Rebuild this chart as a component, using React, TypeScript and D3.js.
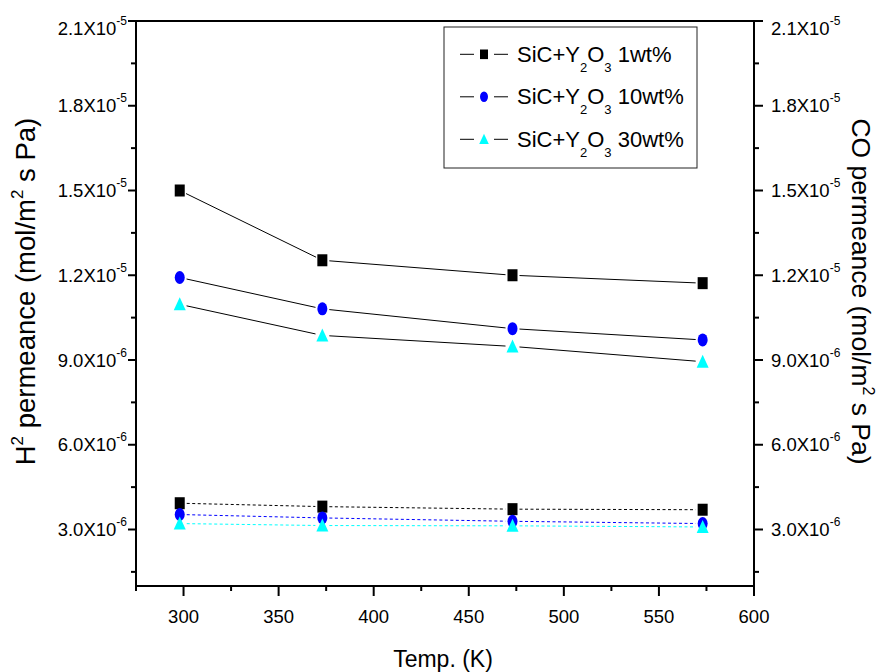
import React from "react";
import * as d3 from "d3";

const temps = [298, 373, 473, 573];
const h2Series1 = [1.5e-5, 1.253e-5, 1.2e-5, 1.172e-5];
const h2Series10 = [1.192e-5, 1.081e-5, 1.011e-5, 9.71e-6];
const h2Series30 = [1.097e-5, 9.87e-6, 9.48e-6, 8.94e-6];
const coSeries1 = [3.93e-6, 3.81e-6, 3.72e-6, 3.7e-6];
const coSeries10 = [3.53e-6, 3.41e-6, 3.29e-6, 3.21e-6];
const coSeries30 = [3.21e-6, 3.14e-6, 3.13e-6, 3.09e-6];

const legendPrefix = "SiC+Y";
const legendSuffix = ["1wt%", "10wt%", "30wt%"];
const seriesColors = ["#000000", "#0000ff", "#00ffff"];
const seriesShapes = ["square", "circle", "triangle"];

const xMajorTicks = [300, 350, 400, 450, 500, 550, 600];
const xMinorTicks = [275, 325, 375, 425, 475, 525, 575];
const yMajorTicks = [3e-6, 6e-6, 9e-6, 1.2e-5, 1.5e-5, 1.8e-5, 2.1e-5];
const yMinorTicks = [1.5e-6, 4.5e-6, 7.5e-6, 1.05e-5, 1.35e-5, 1.65e-5, 1.95e-5];
const yTickMantissa = ["3.0", "6.0", "9.0", "1.2", "1.5", "1.8", "2.1"];
const yTickExp = ["-6", "-6", "-6", "-5", "-5", "-5", "-5"];

const W = 880;
const H = 672;
const L = 136;
const R = 754;
const T = 21;
const B = 586;
const FONT = "'Liberation Sans', Arial, Helvetica, sans-serif";

function Marker({ shape, cx, cy, color, s = 1 }: any) {
  if (shape === "square")
    return <rect x={cx - 5 * s} y={cy - 6 * s} width={10 * s} height={12 * s} fill={color} />;
  if (shape === "circle")
    return <ellipse cx={cx} cy={cy} rx={5 * s} ry={6.5 * s} fill={color} />;
  const p = `M${cx},${cy - 7 * s} L${cx + 6 * s},${cy + 6 * s} L${cx - 6 * s},${cy + 6 * s} Z`;
  return <path d={p} fill={color} />;
}

export default function App() {
  const x = d3.scaleLinear().domain([275, 600]).range([L, R]);
  const y = d3.scaleLinear().domain([1e-6, 2.1e-5]).range([B, T]);
  const yR = d3.scaleLinear().domain([1e-6, 2.1e-5]).range([B, T]);

  const h2 = [h2Series1, h2Series10, h2Series30];
  const co = [coSeries1, coSeries10, coSeries30];
  const gap = 7;

  const segs = (vals: number[], sc: any) => {
    const pts = vals.map((v, i) => [x(temps[i]), sc(v)]);
    const out: number[][] = [];
    for (let i = 0; i < pts.length - 1; i++) {
      const [x1, y1] = pts[i];
      const [x2, y2] = pts[i + 1];
      const len = Math.hypot(x2 - x1, y2 - y1);
      const ux = (x2 - x1) / len;
      const uy = (y2 - y1) / len;
      out.push([x1 + ux * gap, y1 + uy * gap, x2 - ux * gap, y2 - uy * gap]);
    }
    return out;
  };

  return (
    <svg width={W} height={H} style={{ position: "absolute", left: 0, top: 0, background: "#fff" }} fontFamily={FONT}>
      <rect x={0} y={0} width={W} height={H} fill="#fff" />
      {h2.map((vals, si) =>
        segs(vals, y).map((s, i) => (
          <line key={`h${si}-${i}`} x1={s[0]} y1={s[1]} x2={s[2]} y2={s[3]} stroke="#000" strokeWidth={1} />
        ))
      )}
      {co.map((vals, si) =>
        segs(vals, yR).map((s, i) => (
          <line key={`c${si}-${i}`} x1={s[0]} y1={s[1]} x2={s[2]} y2={s[3]} stroke={seriesColors[si]} strokeWidth={1} strokeDasharray="3,2.5" />
        ))
      )}
      {h2.map((vals, si) =>
        vals.map((v, i) => <Marker key={`hm${si}-${i}`} shape={seriesShapes[si]} cx={x(temps[i])} cy={y(v)} color={seriesColors[si]} />)
      )}
      {co.map((vals, si) =>
        vals.map((v, i) => <Marker key={`cm${si}-${i}`} shape={seriesShapes[si]} cx={x(temps[i])} cy={yR(v)} color={seriesColors[si]} />)
      )}

      <path d={`M${L},${T} H${R} V${B} H${L} Z`} fill="none" stroke="#000" strokeWidth={2} />

      {xMajorTicks.map((t) => (
        <g key={`xt${t}`}>
          <line x1={x(t)} x2={x(t)} y1={B} y2={B + 10} stroke="#000" strokeWidth={2} />
          <text x={x(t)} y={B + 37} textAnchor="middle" fontSize={18.5}>{t}</text>
        </g>
      ))}
      {xMinorTicks.map((t) => (
        <line key={`xm${t}`} x1={x(t)} x2={x(t)} y1={B} y2={B + 5} stroke="#000" strokeWidth={2} />
      ))}

      {yMajorTicks.map((t, i) => {
        const ty = y(t);
        const ly = Math.max(ty + 6.5, T + 14);
        return (
          <g key={`yt${i}`}>
            <line x1={L - 8} x2={L} y1={ty} y2={ty} stroke="#000" strokeWidth={2} />
            <line x1={R} x2={R + 9} y1={yR(t)} y2={yR(t)} stroke="#000" strokeWidth={2} />
            <text x={127} y={ly} textAnchor="end" fontSize={18.5}>
              {yTickMantissa[i]}X10<tspan dy={-10} fontSize={12}>{yTickExp[i]}</tspan>
            </text>
            <text x={771} y={ly} textAnchor="start" fontSize={18.5}>
              {yTickMantissa[i]}X10<tspan dy={-10} fontSize={12}>{yTickExp[i]}</tspan>
            </text>
          </g>
        );
      })}
      {yMinorTicks.map((t, i) => (
        <g key={`ym${i}`}>
          <line x1={L - 5} x2={L} y1={y(t)} y2={y(t)} stroke="#000" strokeWidth={2} />
          <line x1={R} x2={R + 5} y1={yR(t)} y2={yR(t)} stroke="#000" strokeWidth={2} />
        </g>
      ))}

      <text x={(L + R) / 2 - 2} y={667} textAnchor="middle" fontSize={23}>Temp. (K)</text>
      <text transform={`translate(35,${(T + B) / 2 - 12}) rotate(-90)`} textAnchor="middle" fontSize={27.5}>
        H<tspan dy={-12} fontSize={17}>2</tspan><tspan dy={12}> permeance (mol/m</tspan><tspan dy={-12} fontSize={17}>2</tspan><tspan dy={12}> s Pa)</tspan>
      </text>
      <text transform={`translate(852,${(T + B) / 2 - 12}) rotate(90)`} textAnchor="middle" fontSize={26.5}>
        CO permeance (mol/m<tspan dy={-11} fontSize={16}>2</tspan><tspan dy={11}> s Pa)</tspan>
      </text>

      <rect x={444} y={27} width={253} height={141} fill="#fff" stroke="#222" strokeWidth={1} />
      {legendSuffix.map((suf, i) => {
        const cy = 54.3 + i * 42.5;
        return (
          <g key={`lg${i}`}>
            <line x1={460} x2={474} y1={cy} y2={cy} stroke="#000" strokeWidth={1} />
            <line x1={494} x2={508} y1={cy} y2={cy} stroke="#000" strokeWidth={1} />
            <Marker shape={seriesShapes[i]} cx={484} cy={cy} color={seriesColors[i]} s={0.8} />
            <text x={517} y={cy + 7.5} fontSize={22}>
              {legendPrefix}<tspan dy={10} fontSize={13}>2</tspan><tspan dy={-10}>O</tspan><tspan dy={10} fontSize={13}>3</tspan><tspan dy={-10}> {suf}</tspan>
            </text>
          </g>
        );
      })}
    </svg>
  );
}
